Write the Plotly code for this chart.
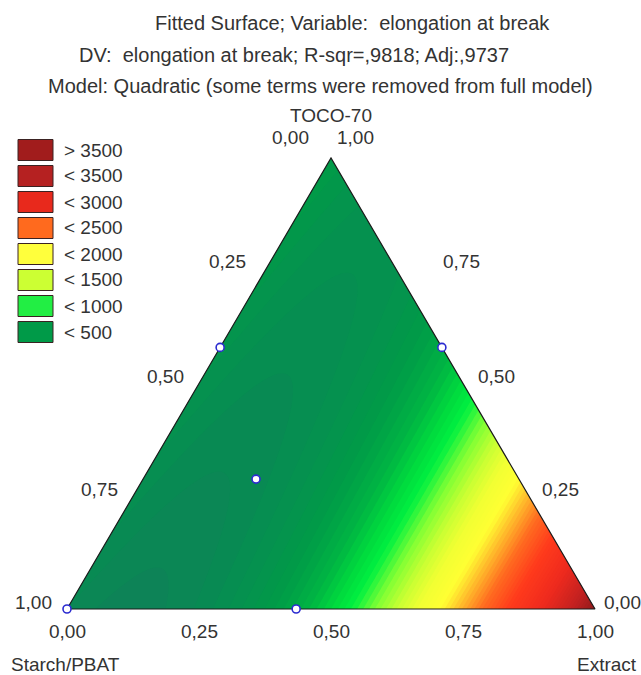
import numpy as np
import plotly.graph_objects as go

# ---- Fitted quadratic mixture model (Scheffé form) ----
# linear terms: Starch/PBAT, TOCO-70, Extract
LINEAR_COEF = [200.0, 500.0, 4000.0]
# binary terms: Starch*TOCO, Starch*Extract, TOCO*Extract
CROSS_COEF = [0.0, -5000.0, -5500.0]

# ---- Design points (component fractions) ----
DESIGN_STARCH = [1.000, 0.566, 0.420, 0.000, 0.498]
DESIGN_TOCO = [0.000, 0.000, 0.580, 0.580, 0.288]
DESIGN_EXTRACT = [0.000, 0.434, 0.000, 0.420, 0.214]

# ---- Legend ----
LEGEND_LABELS = ["> 3500", "< 3500", "< 3000", "< 2500", "< 2000", "< 1500", "< 1000", "< 500"]
LEGEND_COLORS = ["#a11c1c", "#b52121", "#e8291c", "#ff6a1e", "#ffff3c", "#ccff33", "#22ee44", "#009a48"]

# ---- Colour gradient of the surface (value, colour) ----
SCALE_VALUES = [0, 250, 500, 700, 850, 1000, 1200, 1400, 1600, 1850, 2050, 2350, 2700, 3150, 3650, 4000]
SCALE_COLORS = ["#137a5c", "#078c52", "#009c47", "#00b543", "#00d83e", "#00f040", "#80ff34", "#c8ff33",
                "#f0ff33", "#ffff33", "#ffc02c", "#ff6a20", "#ff3a1c", "#ee2a1e", "#c02020", "#8e1a1a"]

TICK_VALUES = [0.0, 0.25, 0.5, 0.75, 1.0]
TICK_TEXT = ["0,00", "0,25", "0,50", "0,75", "1,00"]

TITLE_LINES = [
    "Fitted Surface; Variable:\u00a0 elongation at break",
    "DV:\u00a0 elongation at break; R-sqr=,9818; Adj:,9737",
    "Model: Quadratic (some terms were removed from full model)",
]

FONT = "Liberation Sans, Arial, sans-serif"
TEXT_COLOR = "#333333"
FS = 19
FS_TITLE = 20

# ---- page geometry (pixels) ----
W, HPX = 641, 675
PX_LEFT, PX_RIGHT, PX_BASE, PX_APEX = 67, 595, 609, 158
H = np.sqrt(3) / 2


def to_xy(s, t, e):
    """Ternary composition -> cartesian (Starch at origin, Extract at (1,0), TOCO at apex)."""
    s, t, e = np.asarray(s, float), np.asarray(t, float), np.asarray(e, float)
    return e + t / 2.0, t * H


def model(s, t, e):
    b1, b2, b3 = LINEAR_COEF
    c12, c13, c23 = CROSS_COEF
    return b1 * s + b2 * t + b3 * e + c12 * s * t + c13 * s * e + c23 * t * e


sx = (PX_RIGHT - PX_LEFT)
sy = (PX_BASE - PX_APEX) / H
x_range = [(0 - PX_LEFT) / sx, (W - PX_LEFT) / sx]
y_range = [(PX_BASE - HPX) / sy, PX_BASE / sy]

# surface grid (covers the triangle, outside is masked afterwards)
xs = np.linspace(-0.02, 1.02, 521)
ys = np.linspace(-0.02, H + 0.02, 461)
XX, YY = np.meshgrid(xs, ys)
T = YY / H
E = XX - T / 2.0
S = 1.0 - T - E
Z = model(S, T, E)

zmin, zmax = SCALE_VALUES[0], SCALE_VALUES[-1]
colorscale = [[(v - zmin) / (zmax - zmin), c] for v, c in zip(SCALE_VALUES, SCALE_COLORS)]

fig = go.Figure()
fig.add_trace(go.Contour(
    x=xs, y=ys, z=Z, zmin=zmin, zmax=zmax, colorscale=colorscale,
    contours=dict(start=zmin, end=zmax, size=50, coloring="fill", showlines=False),
    line=dict(width=0), showscale=False, hoverinfo="skip",
))

# white masks outside the triangle
vx, vy = to_xy([1, 0, 0], [0, 0, 1], [0, 1, 0])  # Starch, Extract, TOCO vertices
ax, ay = float(vx[2]), float(vy[2])
pad = 0.1
fig.add_trace(go.Scatter(x=[vx[0], ax, ax, -pad, -pad, vx[0]], y=[vy[0], ay, H + pad, H + pad, vy[0], vy[0]],
                         fill="toself", fillcolor="white", mode="none", hoverinfo="skip", showlegend=False))
fig.add_trace(go.Scatter(x=[vx[1], ax, ax, 1 + pad, 1 + pad, vx[1]], y=[vy[1], ay, H + pad, H + pad, vy[1], vy[1]],
                         fill="toself", fillcolor="white", mode="none", hoverinfo="skip", showlegend=False))
fig.add_trace(go.Scatter(x=[-pad, 1 + pad, 1 + pad, -pad, -pad], y=[0, 0, -pad, -pad, 0],
                         fill="toself", fillcolor="white", mode="none", hoverinfo="skip", showlegend=False))

# triangle outline
fig.add_trace(go.Scatter(x=list(vx) + [vx[0]], y=list(vy) + [vy[0]], mode="lines",
                         line=dict(color="#1a1a1a", width=1.2), hoverinfo="skip", showlegend=False))

# design points
dx, dy = to_xy(DESIGN_STARCH, DESIGN_TOCO, DESIGN_EXTRACT)
fig.add_trace(go.Scatter(x=dx, y=dy, mode="markers",
                         marker=dict(symbol="circle", size=8, color="white",
                                     line=dict(color="#2b2bd0", width=1.6)),
                         hoverinfo="skip", showlegend=False))

ann = []


def label(x, y, text, xshift=0, yshift=0, xanchor="center"):
    ann.append(dict(x=float(x), y=float(y), xref="x", yref="y", text=text, showarrow=False,
                    xshift=xshift, yshift=yshift, xanchor=xanchor, yanchor="middle",
                    font=dict(family=FONT, size=FS, color=TEXT_COLOR)))


# label offsets (pixels) along each side of the triangle
LEFT_SHIFT = {0.0: (-41, 21), 0.25: (-38, 9), 0.5: (-34, 7), 0.75: (-34, 7), 1.0: (-34, 7)}
RIGHT_SHIFT = {1.0: (24, 21), 0.75: (64, 9), 0.5: (33, 7), 0.25: (31, 7), 0.0: (27, 7)}

for v, txt in zip(TICK_VALUES, TICK_TEXT):
    # bottom: Extract fraction
    bx, by = to_xy(1 - v, 0, v)
    label(bx, by, txt, yshift=-22)
    # left: Starch/PBAT fraction
    lx, ly = to_xy(v, 1 - v, 0)
    label(lx, ly, txt, *LEFT_SHIFT[v])
    # right: TOCO-70 fraction
    rx, ry = to_xy(0, v, 1 - v)
    label(rx, ry, txt, *RIGHT_SHIFT[v])


def paper_text(px, py, text, xanchor="center", size=FS):
    ann.append(dict(x=px / W, y=1 - py / HPX, xref="paper", yref="paper", text=text, showarrow=False,
                    xanchor=xanchor, yanchor="middle", font=dict(family=FONT, size=size, color=TEXT_COLOR)))


paper_text(153, 23, TITLE_LINES[0], "left", FS_TITLE)
paper_text(77, 55, TITLE_LINES[1], "left", FS_TITLE)
paper_text(46, 86, TITLE_LINES[2], "left", FS_TITLE)
paper_text(331, 116, "TOCO-70")
paper_text(9, 664, "Starch/PBAT", "left")
paper_text(639, 664, "Extract", "right")

# legend boxes
shapes = []
for i, (lab, col) in enumerate(zip(LEGEND_LABELS, LEGEND_COLORS)):
    cy = 150 + 26 * i
    shapes.append(dict(type="rect", xref="paper", yref="paper",
                       x0=18 / W, x1=53 / W, y0=1 - (cy + 10.5) / HPX, y1=1 - (cy - 10.5) / HPX,
                       fillcolor=col, line=dict(color="#3a2222", width=1)))
    paper_text(62, cy, lab, "left")

fig.update_layout(
    width=W, height=HPX, margin=dict(l=0, r=0, t=0, b=0),
    paper_bgcolor="white", plot_bgcolor="white",
    xaxis=dict(range=x_range, visible=False, fixedrange=True),
    yaxis=dict(range=y_range, visible=False, fixedrange=True),
    annotations=ann, shapes=shapes, showlegend=False,
)

fig.write_html("out.html")
